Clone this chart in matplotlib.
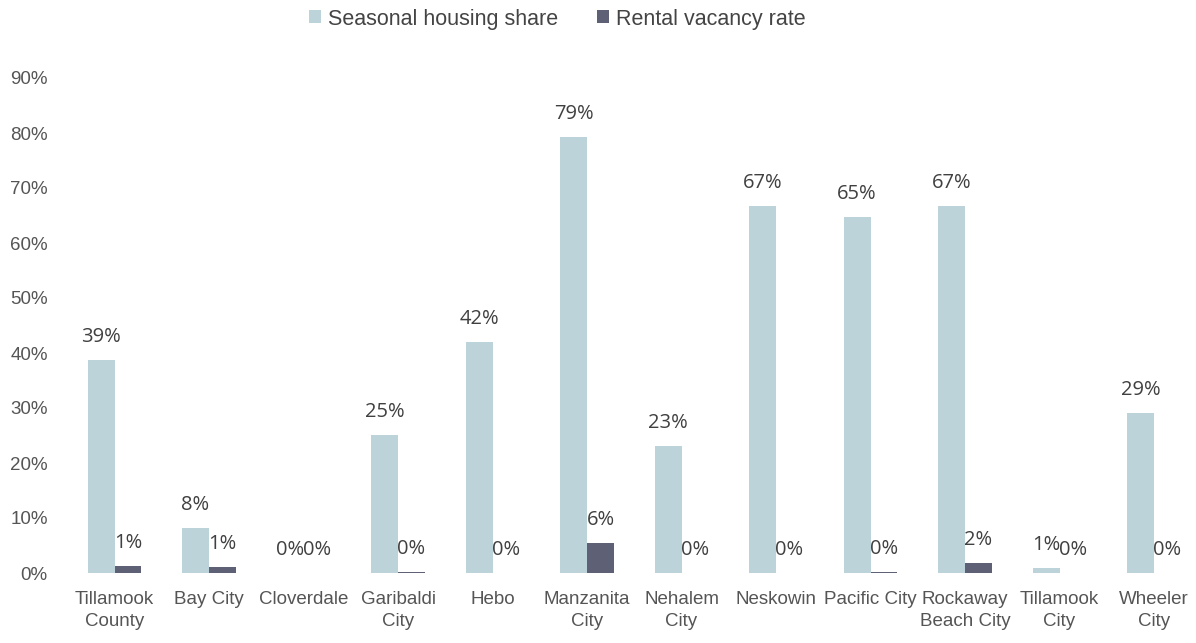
from matplotlib import pyplot as plt
import numpy as np

# data
places = ["Tillamook\nCounty", "Bay City", "Cloverdale", "Garibaldi\nCity", "Hebo",
          "Manzanita\nCity", "Nehalem\nCity", "Neskowin", "Pacific City",
          "Rockaway\nBeach City", "Tillamook\nCity", "Wheeler\nCity"]
seasonal = [0.387, 0.082, 0.0, 0.251, 0.420, 0.793, 0.231, 0.667, 0.648, 0.667, 0.009, 0.291]
vacancy = [0.013, 0.011, 0.0, 0.002, 0.0, 0.055, 0.0, 0.0, 0.002, 0.018, 0.0, 0.0]
yticks = [0, 0.1, 0.2, 0.3, 0.4, 0.5, 0.6, 0.7, 0.8, 0.9]

c_seas = "#bcd3d9"
c_vac = "#5e6176"

fig = plt.figure(figsize=(11.96, 6.43), dpi=100)
ax = fig.add_axes([67.25/1196, 1-573/643, 1134/1196, 495/643])

x = np.arange(len(places))
w = 0.285
b1 = ax.bar(x - w/2, seasonal, w, color=c_seas, label="Seasonal housing share")
b2 = ax.bar(x + w/2, vacancy, w, color=c_vac, label="Rental vacancy rate")

for bars in (b1, b2):
    for r in bars:
        v = r.get_height()
        ax.annotate("%d%%" % round(v*100), (r.get_x() + r.get_width()/2, v),
                    xytext=(0, 13), textcoords="offset points", ha="center", va="baseline",
                    fontsize=14.5, color="#404040", family="Open Sans")

ax.set_xlim(-0.5, 11.5)
ax.set_ylim(0, 0.9)
ax.set_yticks(yticks)
ax.set_yticklabels(["%d%%" % round(t*100) for t in yticks])
ax.set_xticks(x)
ax.set_xticklabels(places, linespacing=1.4)
ax.tick_params(length=0, labelsize=13.5, labelcolor="#555555", pad=14, axis="y")
ax.tick_params(length=0, labelsize=13.5, labelcolor="#555555", pad=13, axis="x")
for lab in ax.get_xticklabels() + ax.get_yticklabels():
    lab.set_family("Liberation Sans")
for s in ax.spines.values():
    s.set_visible(False)

fig.legend(loc="center", bbox_to_anchor=(0.466, 1-19/643), ncol=2, frameon=False,
           prop={"family": "Liberation Sans", "size": 15.5}, labelcolor="#444444",
           handlelength=0.55, handleheight=0.55, handletextpad=0.35, columnspacing=1.8)

fig.savefig("out.png", dpi=100)
